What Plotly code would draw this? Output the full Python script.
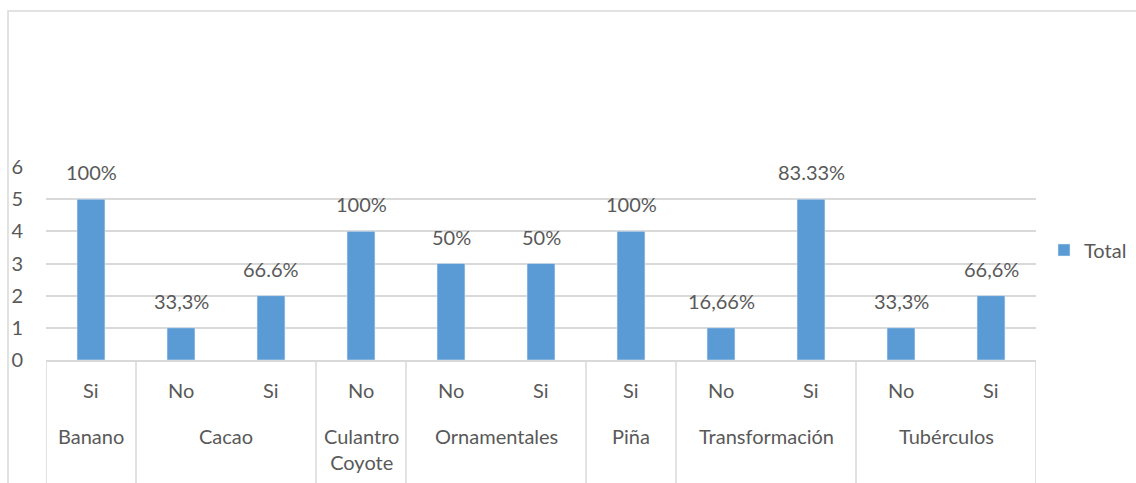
import plotly.graph_objects as go

groups = ["Banano", "Cacao", "Cacao", "Culantro<br>Coyote", "Ornamentales", "Ornamentales",
          "Piña", "Transformación", "Transformación", "Tubérculos", "Tubérculos"]
answers = ["Si", "No", "Si", "No", "No", "Si", "Si", "No", "Si", "No", "Si"]
totals = [5, 1, 2, 4, 3, 3, 4, 1, 5, 1, 2]
pct_labels = ["100%", "33,3%", "66.6%", "100%", "50%", "50%", "100%", "16,66%", "83.33%", "33,3%", "66,6%"]

W, H = 1136, 483
L, R, T, B = 46, 100, 167, 123
PW, PH = W - L - R, H - T - B
TXT = "#595959"
GRID = "#D9D9D9"
FONT = "Lato"
FS = 20

def px_x(px):
    return (px - L) / PW

def px_y(py):
    return (H - B - py) / PH

xs = list(range(len(totals)))

fig = go.Figure()
fig.add_trace(go.Bar(x=xs, y=totals, width=0.31, marker_color="#5B9BD5",
                     name="Total", showlegend=True))

annotations = []
for x, v, t in zip(xs, totals, pct_labels):
    annotations.append(dict(x=x, y=v, xref="x", yref="y", text=t, showarrow=False,
                            yanchor="bottom", yshift=13, font=dict(family=FONT, size=FS, color=TXT)))
for x, a in zip(xs, answers):
    annotations.append(dict(x=x, y=px_y(390), xref="x", yref="paper", text=a, showarrow=False,
                            yanchor="middle", font=dict(family=FONT, size=FS, color=TXT)))
shapes = []
spans = []
start = 0
for i in range(1, len(groups) + 1):
    if i == len(groups) or groups[i] != groups[start]:
        spans.append((groups[start], start, i - 1))
        start = i
for g, s, e in spans:
    annotations.append(dict(x=(s + e) / 2, y=px_y(422), xref="x", yref="paper", text=g,
                            showarrow=False, yanchor="top",
                            font=dict(family=FONT, size=FS, color=TXT)))
bounds = [s - 0.5 for _, s, _ in spans] + [spans[-1][2] + 0.5]
for b in bounds:
    shapes.append(dict(type="line", xref="x", yref="paper", x0=b, x1=b, y0=0, y1=px_y(490),
                       line=dict(color=GRID, width=1.5)))
shapes.append(dict(type="rect", xref="paper", yref="paper", x0=px_x(8), x1=px_x(1140),
                   y0=px_y(11), y1=px_y(495), line=dict(color=GRID, width=1.5), layer="below"))

fig.update_layout(
    width=W, height=H,
    margin=dict(l=L, r=R, t=T, b=B, autoexpand=False),
    paper_bgcolor="white", plot_bgcolor="white",
    bargap=0.69,
    font=dict(family=FONT, size=FS, color=TXT),
    xaxis=dict(range=[-0.5, len(totals) - 0.5], showticklabels=False, showgrid=False,
               zeroline=False, showline=True, linecolor=GRID, linewidth=1.5, ticks=""),
    yaxis=dict(range=[0, 6], dtick=1, showgrid=True, gridcolor=GRID, gridwidth=1.5,
               zeroline=False, showline=False, ticks="", ticklabelstandoff=22,
               tickfont=dict(family=FONT, size=FS, color=TXT)),
    legend=dict(xref="container", yref="container", x=1132 / W, y=(H - 250) / H,
                xanchor="right", yanchor="middle",
                font=dict(family=FONT, size=FS, color=TXT), itemwidth=30,
                bgcolor="rgba(0,0,0,0)"),
    annotations=annotations,
    shapes=shapes,
)

fig.write_html("out.html")
